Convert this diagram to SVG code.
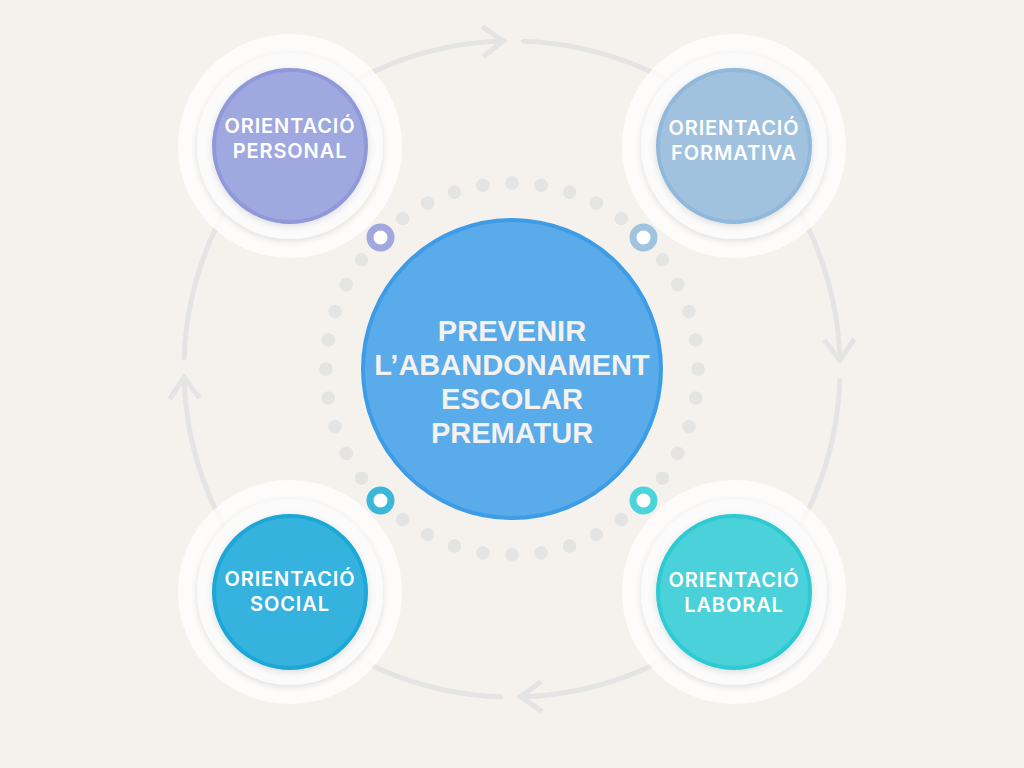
<svg xmlns="http://www.w3.org/2000/svg" width="1024" height="768" viewBox="0 0 1024 768">
  <defs>
    <style>
      .ring { fill: none; stroke: #e4e4e4; stroke-width: 5; stroke-linecap: round; }
      .halo { fill: #ffffff; fill-opacity: 0.78; }
      .mid { fill: #fbfbfb; filter: url(#sh); }
      .dot { fill: #e4e4e3; }
      .tiny { fill: #ffffff; stroke-width: 7; }
      .lbl { font-family: "Inter", "Noto Sans", sans-serif; font-weight: 600; font-size: 20px; letter-spacing: 0.9px; fill: #ffffff; text-anchor: middle; }
      .big { font-family: "Liberation Sans", Arial, sans-serif; font-weight: 700; font-size: 29px; fill: #f5f1ee; text-anchor: middle; }
    </style>
    <filter id="sh" x="-20%" y="-20%" width="140%" height="140%">
      <feDropShadow dx="0" dy="2" stdDeviation="3" flood-color="#000000" flood-opacity="0.12"/>
    </filter>
    <marker id="chev" markerUnits="userSpaceOnUse" viewBox="-26 -20 30 40" refX="0" refY="0" markerWidth="30" markerHeight="40" orient="auto" overflow="visible">
      <path d="M-21,-15 L0,0 L-21,15" fill="none" stroke="#e4e4e4" stroke-width="5" stroke-linejoin="miter"/>
    </marker>
  </defs>

  <rect x="0" y="0" width="1024" height="768" fill="#f5f2ee"/>

  <g id="connectors">
    <path class="ring" marker-end="url(#chev)" d="M184.2,357.6 A328,328 0 0 1 503.4,41.1"/>
    <path class="ring" marker-end="url(#chev)" d="M523.4,41.2 A328,328 0 0 1 839.9,360.4"/>
    <path class="ring" marker-end="url(#chev)" d="M839.8,380.4 A328,328 0 0 1 520.6,696.9"/>
    <path class="ring" marker-end="url(#chev)" d="M500.6,696.8 A328,328 0 0 1 184.1,377.6"/>
  </g>

  <g id="dots">
    <circle class="dot" cx="698.0" cy="369.0" r="6.8"/>
    <circle class="dot" cx="695.7" cy="398.1" r="6.8"/>
    <circle class="dot" cx="688.9" cy="426.5" r="6.8"/>
    <circle class="dot" cx="677.7" cy="453.4" r="6.8"/>
    <circle class="dot" cx="662.5" cy="478.3" r="6.8"/>
    <circle class="dot" cx="621.3" cy="519.5" r="6.8"/>
    <circle class="dot" cx="596.4" cy="534.7" r="6.8"/>
    <circle class="dot" cx="569.5" cy="545.9" r="6.8"/>
    <circle class="dot" cx="541.1" cy="552.7" r="6.8"/>
    <circle class="dot" cx="512.0" cy="555.0" r="6.8"/>
    <circle class="dot" cx="482.9" cy="552.7" r="6.8"/>
    <circle class="dot" cx="454.5" cy="545.9" r="6.8"/>
    <circle class="dot" cx="427.6" cy="534.7" r="6.8"/>
    <circle class="dot" cx="402.7" cy="519.5" r="6.8"/>
    <circle class="dot" cx="361.5" cy="478.3" r="6.8"/>
    <circle class="dot" cx="346.3" cy="453.4" r="6.8"/>
    <circle class="dot" cx="335.1" cy="426.5" r="6.8"/>
    <circle class="dot" cx="328.3" cy="398.1" r="6.8"/>
    <circle class="dot" cx="326.0" cy="369.0" r="6.8"/>
    <circle class="dot" cx="328.3" cy="339.9" r="6.8"/>
    <circle class="dot" cx="335.1" cy="311.5" r="6.8"/>
    <circle class="dot" cx="346.3" cy="284.6" r="6.8"/>
    <circle class="dot" cx="361.5" cy="259.7" r="6.8"/>
    <circle class="dot" cx="402.7" cy="218.5" r="6.8"/>
    <circle class="dot" cx="427.6" cy="203.3" r="6.8"/>
    <circle class="dot" cx="454.5" cy="192.1" r="6.8"/>
    <circle class="dot" cx="482.9" cy="185.3" r="6.8"/>
    <circle class="dot" cx="512.0" cy="183.0" r="6.8"/>
    <circle class="dot" cx="541.1" cy="185.3" r="6.8"/>
    <circle class="dot" cx="569.5" cy="192.1" r="6.8"/>
    <circle class="dot" cx="596.4" cy="203.3" r="6.8"/>
    <circle class="dot" cx="621.3" cy="218.5" r="6.8"/>
    <circle class="dot" cx="662.5" cy="259.7" r="6.8"/>
    <circle class="dot" cx="677.7" cy="284.6" r="6.8"/>
    <circle class="dot" cx="688.9" cy="311.5" r="6.8"/>
    <circle class="dot" cx="695.7" cy="339.9" r="6.8"/>
    <circle class="tiny" cx="380.5" cy="237.5" r="10.5" stroke="#a0a8de"/>
    <circle class="tiny" cx="643.5" cy="237.5" r="10.5" stroke="#a0c3df"/>
    <circle class="tiny" cx="380.5" cy="500.5" r="10.5" stroke="#3ab8dc"/>
    <circle class="tiny" cx="643.5" cy="500.5" r="10.5" stroke="#4dd3da"/>
  </g>

  <g id="node-center">
    <circle cx="512" cy="369" r="149" fill="#5aabea" stroke="#3e9ce7" stroke-width="4"/>
    <text class="big" x="512" y="341">PREVENIR</text>
    <text class="big" x="512" y="375">L’ABANDONAMENT</text>
    <text class="big" x="512" y="409">ESCOLAR</text>
    <text class="big" x="512" y="443">PREMATUR</text>
  </g>

  <g id="node-personal">
    <circle class="halo" cx="290" cy="146" r="112"/>
    <circle class="mid" cx="290" cy="146" r="93"/>
    <circle cx="290" cy="146" r="76" fill="#9fa8df" stroke="#8f99da" stroke-width="4" filter="url(#sh)"/>
    <text class="lbl" x="290" y="133">ORIENTACIÓ</text>
    <text class="lbl" x="290" y="158">PERSONAL</text>
  </g>

  <g id="node-formativa">
    <circle class="halo" cx="734" cy="146" r="112"/>
    <circle class="mid" cx="734" cy="146" r="93"/>
    <circle cx="734" cy="146" r="76" fill="#a0c2df" stroke="#8fb8db" stroke-width="4" filter="url(#sh)"/>
    <text class="lbl" x="734" y="135">ORIENTACIÓ</text>
    <text class="lbl" x="734" y="160">FORMATIVA</text>
  </g>

  <g id="node-social">
    <circle class="halo" cx="290" cy="592" r="112"/>
    <circle class="mid" cx="290" cy="592" r="93"/>
    <circle cx="290" cy="592" r="76" fill="#35b2dd" stroke="#1da7d7" stroke-width="4" filter="url(#sh)"/>
    <text class="lbl" x="290" y="586">ORIENTACIÓ</text>
    <text class="lbl" x="290" y="611">SOCIAL</text>
  </g>

  <g id="node-laboral">
    <circle class="halo" cx="734" cy="592" r="112"/>
    <circle class="mid" cx="734" cy="592" r="93"/>
    <circle cx="734" cy="592" r="76" fill="#4bd1d9" stroke="#2ecad3" stroke-width="4" filter="url(#sh)"/>
    <text class="lbl" x="734" y="587">ORIENTACIÓ</text>
    <text class="lbl" x="734" y="612">LABORAL</text>
  </g>
</svg>
